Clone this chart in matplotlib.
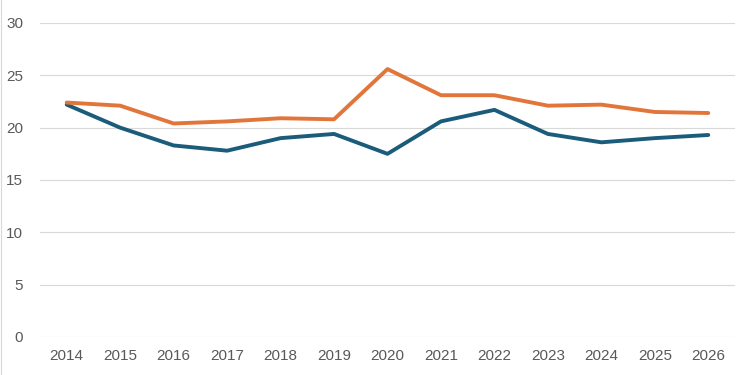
import matplotlib
matplotlib.use('Agg')
import matplotlib.pyplot as plt
from matplotlib.lines import Line2D

# chart data
years = ['2014', '2015', '2016', '2017', '2018', '2019', '2020',
         '2021', '2022', '2023', '2024', '2025', '2026']
orange_vals = [22.4, 22.1, 20.4, 20.6, 20.9, 20.8, 25.6,
               23.1, 23.1, 22.1, 22.2, 21.5, 21.4]
blue_vals = [22.2, 20.0, 18.3, 17.8, 19.0, 19.4, 17.5,
             20.6, 21.7, 19.4, 18.6, 19.0, 19.3]
y_ticks = [0, 5, 10, 15, 20, 25, 30]

plt.rcParams['font.family'] = ['Liberation Sans Narrow', 'Liberation Sans', 'DejaVu Sans']

fig = plt.figure(figsize=(7.47, 3.75), dpi=100)
ax = fig.add_axes([40 / 747, 1 - 337 / 375, 695 / 747, 314 / 375])

x = list(range(len(years)))
ax.plot(x, blue_vals, color='#1b5c7a', linewidth=2.8, solid_capstyle='round',
        solid_joinstyle='round', zorder=3)
ax.plot(x, orange_vals, color='#e2763a', linewidth=2.8, solid_capstyle='round',
        solid_joinstyle='round', zorder=3)

ax.set_xlim(-0.5, len(years) - 0.5)
ax.set_ylim(0, 30)
ax.set_yticks(y_ticks)
ax.set_xticks(x)
ax.set_xticklabels(years)
ax.grid(axis='y', color='#d9d9d9', linewidth=0.8)
ax.set_axisbelow(True)
for s in ax.spines.values():
    s.set_visible(False)
ax.tick_params(length=0, labelsize=11, colors='#595959')
ax.tick_params(axis='y', pad=12)
ax.tick_params(axis='x', pad=9)

# faint border at the far left edge
fig.add_artist(Line2D([0.002, 0.002], [0, 1], transform=fig.transFigure,
                      color='#d9d9d9', linewidth=0.8))

fig.savefig('out.png', dpi=100)
